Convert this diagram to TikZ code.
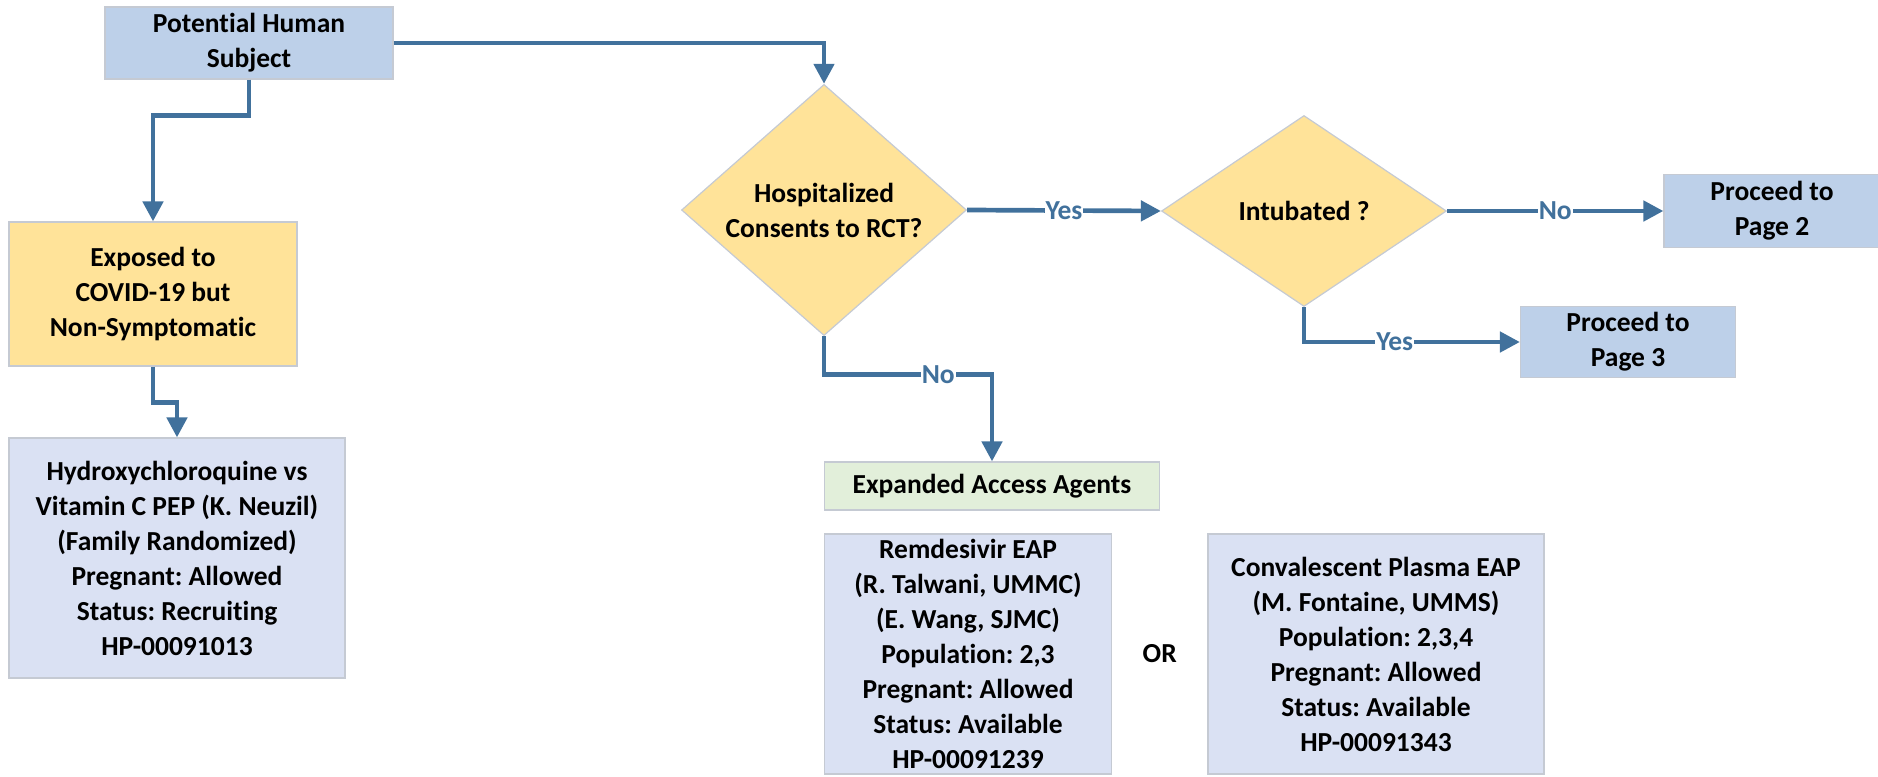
\documentclass[tikz,border=0pt]{standalone}
\usepackage{fontspec}
\setmainfont[Ligatures=NoCommon]{Carlito}
\frenchspacing
\usetikzlibrary{calc}
\usetikzlibrary{positioning}
\usetikzlibrary{shapes.geometric}
\usetikzlibrary{arrows.meta}
\definecolor{flowblue}{HTML}{41719C}
\definecolor{edgegray}{HTML}{C5CAD3}
\definecolor{headfill}{HTML}{BDD0E9}
\definecolor{infofill}{HTML}{DAE1F3}
\definecolor{askfill}{HTML}{FFE399}
\definecolor{agentfill}{HTML}{E2EFDA}
\newcommand{\flowfont}{\fontsize{27.5}{35}\selectfont\bfseries}
\tikzstyle{box} = [draw=edgegray, line width=1.2pt, rectangle, inner sep=0pt, align=center, font=\flowfont]
\tikzstyle{headbox} = [box, fill=headfill]
\tikzstyle{infobox} = [box, fill=infofill]
\tikzstyle{askbox} = [box, fill=askfill]
\tikzstyle{decision} = [draw=edgegray, line width=1.2pt, diamond, fill=askfill, inner sep=0pt, align=center, font=\flowfont]
\tikzstyle{flow} = [draw=flowblue, line width=4.7pt, -{Triangle[length=20pt,width=20pt]}]
\tikzstyle{answer} = [fill=white, text=flowblue, inner sep=1pt, font=\flowfont]

\begin{document}
\begin{tikzpicture}[x=1pt, y=-1pt]
  \useasboundingbox (0,0) rectangle (1878,776);

  \node[headbox, minimum width=288pt, minimum height=72pt] (phs) at (249,43) {Potential Human\\Subject};
  \node[askbox, minimum width=288pt, minimum height=144pt] (exposed) at (153,294) {Exposed to\\COVID-19 but\\Non-Symptomatic};
  \node[infobox, minimum width=336pt, minimum height=240pt] (hcq) at (177,558) {Hydroxychloroquine vs\\Vitamin C PEP (K. Neuzil)\\(Family Randomized)\\Pregnant: Allowed\\Status: Recruiting\\HP-00091013};

  \node[decision, minimum width=285pt, minimum height=238pt] (hosp) at (824,210) {Hospitalized\\Consents to RCT?};
  \node[decision, minimum width=285pt, minimum height=191pt] (intub) at (1304,211) {Intubated ?};
  \node[headbox, minimum width=216pt, minimum height=73pt] (page2) at (1772,211) {Proceed to\\Page 2};
  \node[headbox, minimum width=215pt, minimum height=71pt] (page3) at (1628,342) {Proceed to\\Page 3};

  \node[box, fill=agentfill, minimum width=335pt, minimum height=48pt] (eaa) at (992,486) {Expanded Access Agents};
  \node[infobox, minimum width=287pt, minimum height=240pt] (remdes) at (968,654) {Remdesivir EAP\\(R. Talwani, UMMC)\\(E. Wang, SJMC)\\Population: 2,3\\Pregnant: Allowed\\Status: Available\\HP-00091239};
  \node[infobox, minimum width=336pt, minimum height=240pt] (plasma) at (1376,654) {Convalescent Plasma EAP\\(M. Fontaine, UMMS)\\Population: 2,3,4\\Pregnant: Allowed\\Status: Available\\HP-00091343};
  \node[font=\flowfont] (or) at ($(remdes.east)!0.5!(plasma.west)$) {OR};

  \draw[flow] (phs.south) -- ++(0,36) -| (exposed.north);
  \draw[flow] (exposed.south) -- ++(0,36) -| (hcq.north);
  \draw[flow] (phs.east) -| (hosp.north);
  \draw[flow] (hosp.east) -- node[answer] {Yes} (intub.west);
  \draw[flow] (intub.east) -- node[answer] {No} (page2.west);
  \draw[flow] (intub.south) |- node[answer, pos=0.71] {Yes} (page3.west);
  \draw[flow] (hosp.south) -- ++(0,38) -| node[answer, pos=0.34] {No} (eaa.north);
\end{tikzpicture}
\end{document}
